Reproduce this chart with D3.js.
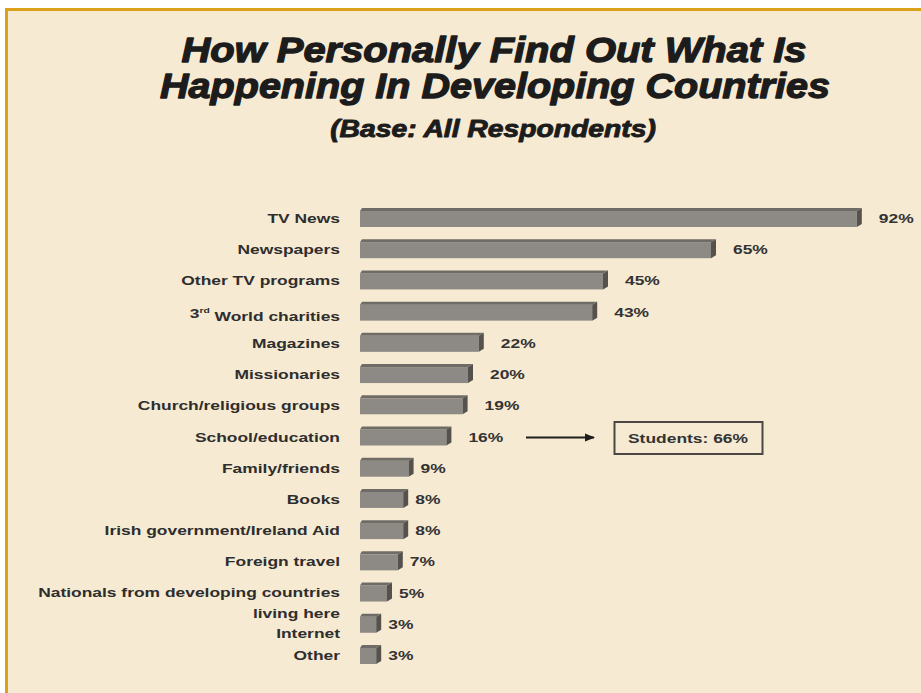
<!DOCTYPE html>
<html>
<head>
<meta charset="utf-8">
<script src="https://cdn.jsdelivr.net/npm/d3@7"></script>
<style>
  html, body { margin: 0; padding: 0; background: #ffffff; }
  svg { display: block; }
</style>
</head>
<body>
<svg id="chart" width="921" height="693"></svg>
<script>
// Survey: sources people use to find out about developing countries (%)
const categories = [
  "TV News", "Newspapers", "Other TV programs", "3rd World charities",
  "Magazines", "Missionaries", "Church/religious groups", "School/education",
  "Family/friends", "Books", "Irish government/Ireland Aid", "Foreign travel",
  "Nationals from developing countries living here", "Internet", "Other"
];
const values = [92, 65, 45, 43, 22, 20, 19, 16, 9, 8, 8, 7, 5, 3, 3];
const calloutCategory = "School/education";
const calloutText = "Students: 66%";

const W = 921, H = 693;
const svg = d3.select("#chart");

// panel background and gold frame
svg.append("rect").attr("x", 0).attr("y", 0).attr("width", W).attr("height", H).attr("fill", "#ffffff");
svg.append("rect").attr("x", 8).attr("y", 10).attr("width", W - 8).attr("height", H - 10).attr("fill", "#f7ead3");
svg.append("line").attr("x1", 6.5).attr("x2", 6.5).attr("y1", 8).attr("y2", H).attr("stroke", "#d9a21a").attr("stroke-width", 3);
svg.append("line").attr("x1", 5).attr("x2", W).attr("y1", 9.5).attr("y2", 9.5).attr("stroke", "#d9a21a").attr("stroke-width", 3);

// text helper: horizontally widened text placed with a transform
const font = "'Liberation Sans', Arial, sans-serif";
function wideText(parent, text, x, y, opts) {
  const o = Object.assign({ size: 13.5, sx: 1.29, anchor: "start", italic: false, fill: "#2e2e2e", stroke: 0 }, opts || {});
  const t = parent.append("text")
    .attr("transform", `translate(${x},${y}) scale(${o.sx},1)`)
    .attr("text-anchor", o.anchor)
    .attr("font-family", font)
    .attr("font-weight", "bold")
    .attr("font-style", o.italic ? "italic" : "normal")
    .attr("font-size", o.size)
    .attr("fill", o.fill);
  if (o.stroke) t.attr("stroke", o.fill).attr("stroke-width", o.stroke).attr("stroke-linejoin", "round");
  if (text !== null) t.text(text);
  return t;
}

// titles
wideText(svg, "How Personally Find Out What Is", 494, 62, { size: 35, sx: 1.14, anchor: "middle", italic: true, fill: "#1c1c1c", stroke: 1.3 });
wideText(svg, "Happening In Developing Countries", 495, 98, { size: 35, sx: 1.13, anchor: "middle", italic: true, fill: "#1c1c1c", stroke: 1.3 });
wideText(svg, "(Base: All Respondents)", 493, 137, { size: 23, sx: 1.23, anchor: "middle", italic: true, fill: "#1c1c1c", stroke: 0.9 });

// scales
const x = d3.scaleLinear().domain([0, 100]).range([360, 900]);
const y = d3.scalePoint().domain(categories).range([218, 655]);

const barH = 16, depthX = 5, depthY = 3;
const g = svg.append("g");
const data = categories.map((c, i) => ({ c, v: values[i] }));

const rows = g.selectAll("g.row").data(data).enter().append("g").attr("class", "row");

// front face
rows.append("rect")
  .attr("x", x(0))
  .attr("y", d => y(d.c) - barH / 2 + 1)
  .attr("width", d => x(d.v) - x(0))
  .attr("height", barH)
  .attr("fill", "#8d8a86");

// top face
rows.append("path")
  .attr("d", d => {
    const x0 = x(0), x1 = x(d.v), yt = y(d.c) - barH / 2 + 1;
    return `M${x0},${yt} L${x0 + depthX * 0.4},${yt - depthY} L${x1 + depthX},${yt - depthY} L${x1},${yt} Z`;
  })
  .attr("fill", "#6f6b66");

// side face
rows.append("path")
  .attr("d", d => {
    const x1 = x(d.v), yt = y(d.c) - barH / 2 + 1, yb = yt + barH;
    return `M${x1},${yt} L${x1 + depthX},${yt - depthY} L${x1 + depthX},${yb - depthY} L${x1},${yb} Z`;
  })
  .attr("fill", "#55524e");

// value labels
data.forEach(d => {
  wideText(g, d.v + "%", x(d.v) + depthX + (d.v >= 15 ? 17 : 7), y(d.c) + 5, { fill: "#333333" });
});

// category labels (right-aligned at the axis)
categories.forEach(c => {
  const yy = y(c) + 5;
  if (c === "3rd World charities") {
    const t = wideText(g, null, 340, yy + 1, { anchor: "end" });
    t.append("tspan").text("3");
    t.append("tspan").attr("font-size", 8).attr("dy", "-0.6em").text("rd");
    t.append("tspan").attr("dy", "0.6em").text(" World charities");
  } else if (c === "Nationals from developing countries living here") {
    wideText(g, "Nationals from developing countries", 340, yy - 1, { anchor: "end" });
    wideText(g, "living here", 340, yy + 20, { anchor: "end" });
  } else if (c === "Internet") {
    wideText(g, c, 340, yy + 9, { anchor: "end" });
  } else {
    wideText(g, c, 340, yy, { anchor: "end" });
  }
});

// callout for school/education
const cy = y(calloutCategory);
svg.append("defs").append("marker")
  .attr("id", "arrow").attr("viewBox", "0 0 10 10").attr("refX", 9).attr("refY", 5)
  .attr("markerWidth", 5).attr("markerHeight", 5).attr("orient", "auto")
  .append("path").attr("d", "M0,1 L10,5 L0,9 Z").attr("fill", "#1e1e1e");
svg.append("line")
  .attr("x1", 526).attr("x2", 594).attr("y1", cy + 1).attr("y2", cy + 1)
  .attr("stroke", "#1e1e1e").attr("stroke-width", 2)
  .attr("marker-end", "url(#arrow)");
svg.append("rect")
  .attr("x", 614.5).attr("y", cy - 14.5).attr("width", 148).attr("height", 32)
  .attr("fill", "none").attr("stroke", "#4a4744").attr("stroke-width", 2);
wideText(svg, calloutText, 688, cy + 6, { anchor: "middle", fill: "#333333" });
</script>
</body>
</html>
